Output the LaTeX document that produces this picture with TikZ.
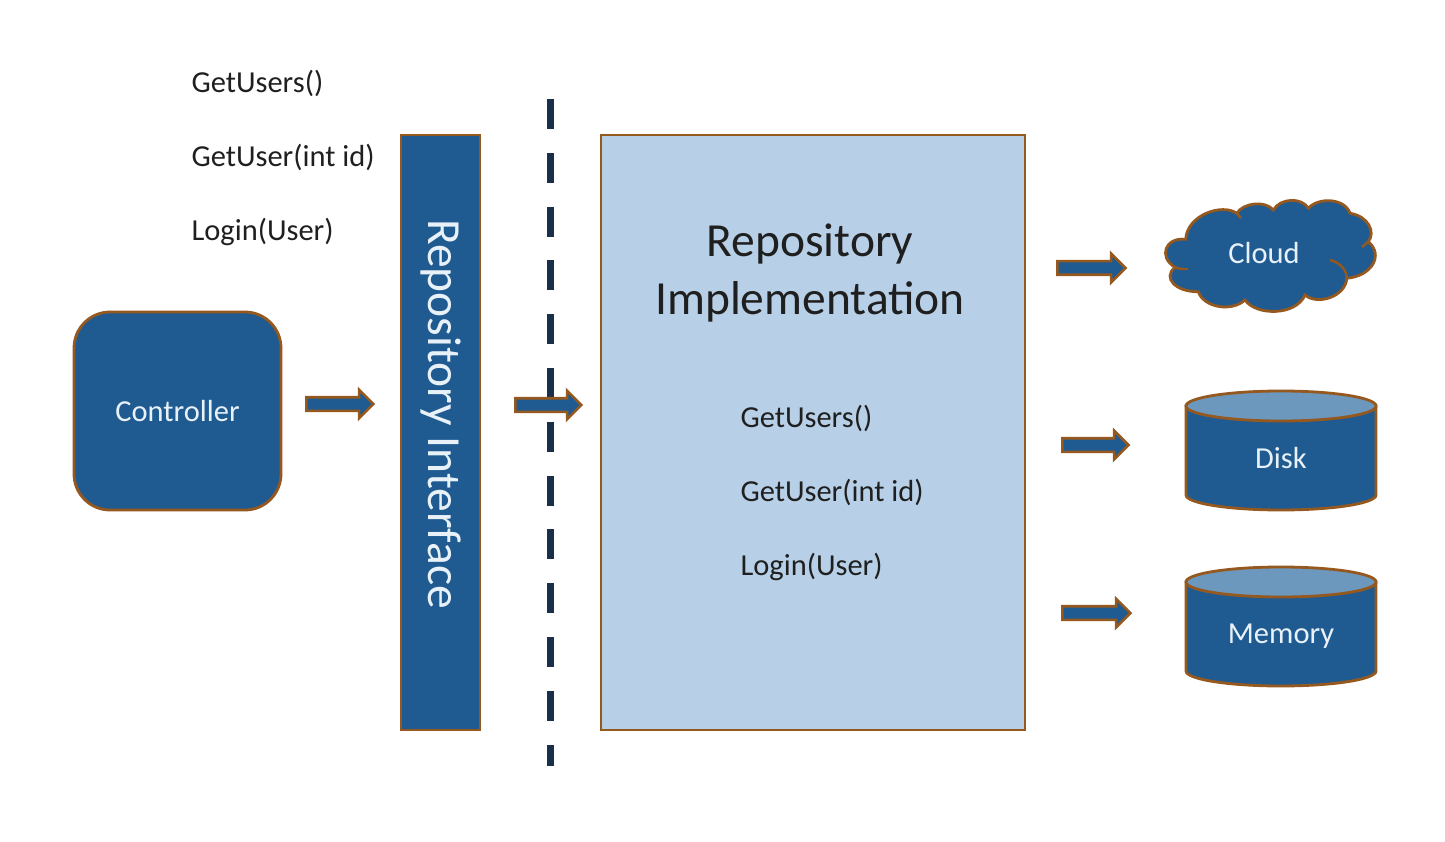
\documentclass[tikz,border=0pt]{standalone}
\usepackage{fontspec}
\setmainfont{Carlito}
\usetikzlibrary{shapes.arrows}
\definecolor{boxblue}{HTML}{1F5B91}
\definecolor{boxedge}{HTML}{95591F}
\definecolor{paleblue}{HTML}{B7D0E7}
\definecolor{lidblue}{HTML}{6C98BE}
\definecolor{dashnavy}{HTML}{1A2F4A}
\definecolor{palewhite}{HTML}{E9F1F8}
\begin{document}
\begin{tikzpicture}[x=1pt,y=-1pt]
        % Define styles
        \tikzset{
            darkbox/.style={draw=boxedge, line width=2.8pt, fill=boxblue, text=palewhite},
            blockarrow/.style={shape=single arrow, draw=boxedge, line width=2.6pt, fill=boxblue,
                inner sep=5.5pt, minimum height=#1, single arrow head extend=7.5pt,
                single arrow tip angle=90, single arrow head indent=0pt},
            barrel/.pic={
                \draw[darkbox] (-95,0) -- (-95,89) arc[start angle=180, end angle=0, x radius=95, y radius=15] -- (95,0) -- cycle;
                \draw[darkbox, fill=lidblue] (0,0) ellipse [x radius=95, y radius=15];
            },
            label/.style={font=\fontsize{30.5}{36}\selectfont, text=black!88, anchor=west},
            smalllabel/.style={font=\fontsize{30.5}{36}\selectfont, text=palewhite}
        }
        \useasboundingbox (0,0) rectangle (1445,842);
        % Method names above the interface
        \node[label] (getusers) at (188,83) {GetUsers()};
        \node[label] (getuser) at (188,157) {GetUser(int id)};
        \node[label] (login) at (188,232) {Login(User)};
        % Controller and the interface bar
        \node[darkbox, smalllabel, rounded corners=36pt, minimum width=207pt, minimum height=198pt] (controller) at (177.5,411) {Controller};
        \node[darkbox, minimum width=79pt, minimum height=595pt] (interface) at (440.5,432.5) {};
        \node[rotate=-90, text=palewhite, font=\fontsize{47.5}{54}\selectfont] (interfacetext) at (441,414) {Repository Interface};
        % Boundary line
        \coordinate (linetop) at (550,99);
        \coordinate (linebottom) at (550,766);
        \draw[dashnavy, line width=7pt, dash pattern=on 30pt off 23.8pt] (linetop) -- (linebottom);
        % Implementation box
        \node[draw=boxedge, line width=2.8pt, fill=paleblue, minimum width=424pt, minimum height=595pt] (impl) at (813,432.5) {};
        \node[align=center, text=black!88, font=\fontsize{47.5}{57.5}\selectfont] (impltext) at (810,273) {Repository\\Implementation};
        \node[label] (getusersimpl) at (737,418) {GetUsers()};
        \node[label] (getuserimpl) at (737,492) {GetUser(int id)};
        \node[label] (loginimpl) at (737,567) {Login(User)};
        % Block arrows
        \node[blockarrow=67pt] (arrowa) at (336.5,404) {};
        \node[blockarrow=66pt] (arrowb) at (545,405) {};
        \node[blockarrow=68pt] (arrowc) at (1088,268) {};
        \node[blockarrow=66pt] (arrowd) at (1092,445) {};
        \node[blockarrow=68pt] (arrowe) at (1093,613) {};
        % Cloud outline
        \draw[darkbox] (1185.7,239.3) .. controls (1187,215) and (1222,203) .. (1236.7,213.3)
            .. controls (1243,203) and (1265,200) .. (1273.3,210)
            .. controls (1280,198) and (1302,197) .. (1308.3,208.3)
            .. controls (1318,197) and (1345,198) .. (1350,213.3)
            .. controls (1368,216) and (1376,232) .. (1368.3,241.7)
            .. controls (1384,255) and (1372,276) .. (1346.7,278.3)
            .. controls (1346,296) and (1318,306) .. (1305,295)
            .. controls (1296,316) and (1256,316) .. (1245,300)
            .. controls (1232,312) and (1204,308) .. (1198.3,291.7)
            .. controls (1176,292) and (1162,278) .. (1175,267.3)
            .. controls (1158,257) and (1165,237) .. (1185.7,239.3) -- cycle;
        % Creases inside the cloud
        \draw[boxedge, line width=2.4pt] (1175,267.3) .. controls (1180,269) .. (1188,269);
        \draw[boxedge, line width=2.4pt] (1330,260) .. controls (1342,263) and (1347,272) .. (1346.7,278.3);
        \draw[boxedge, line width=2.4pt] (1368.3,241.7) -- (1362,247);
        \draw[boxedge, line width=2.4pt] (1236.7,213.3) -- (1241,218);
        \node[smalllabel] (cloud) at (1264,253) {Cloud};
        % Stores
        \pic at (1281,406) {barrel};
        \node[smalllabel] (disk) at (1281,458) {Disk};
        \pic at (1281,582) {barrel};
        \node[smalllabel] (memory) at (1281,636) {Memory};
\end{tikzpicture}
\end{document}
